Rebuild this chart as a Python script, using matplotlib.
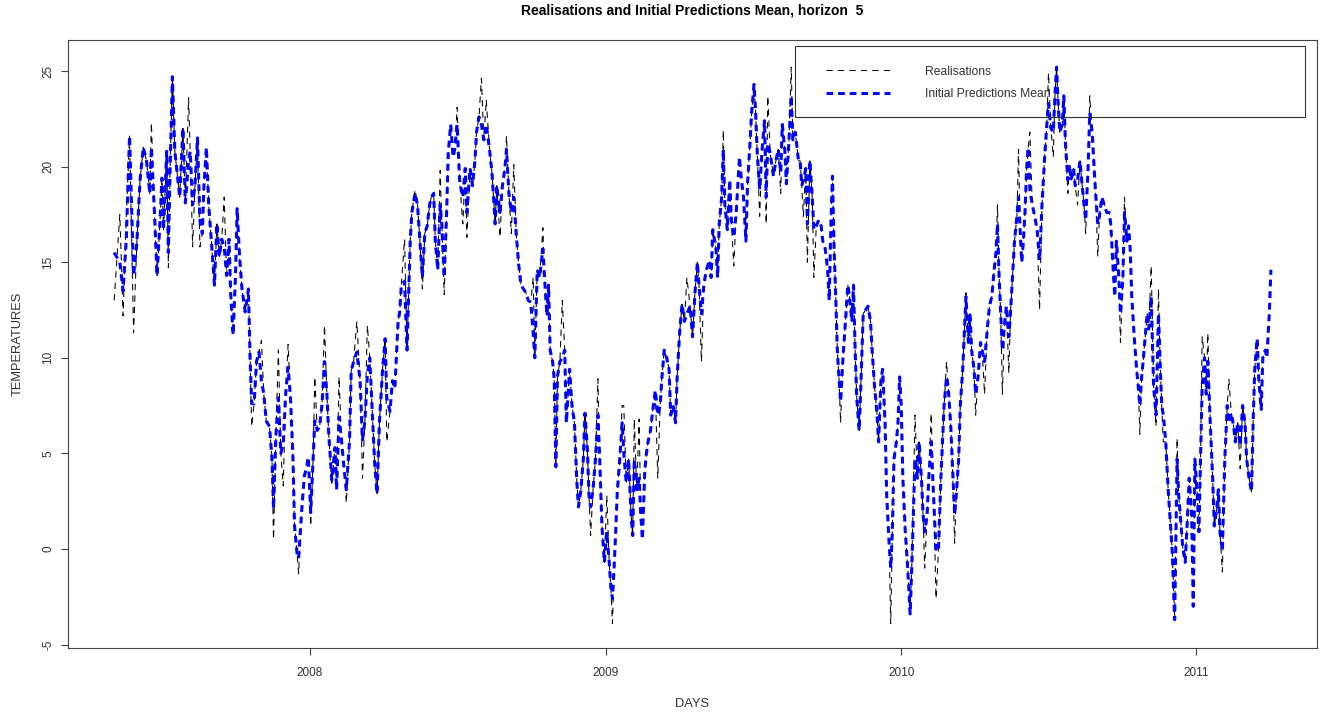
import pandas as pd
import matplotlib
matplotlib.use("Agg")
import matplotlib.pyplot as plt
from matplotlib.lines import Line2D
from matplotlib.patches import Rectangle

start = pd.Timestamp("2007-05-04")
days = [
    0, 7, 11, 15, 19, 24, 28, 32, 36, 40,
    44, 46, 50, 53, 57, 59, 61, 65, 67, 69,
    72, 75, 78, 81, 85, 88, 92, 94, 97, 100,
    103, 106, 109, 111, 114, 117, 120, 124, 127, 130,
    133, 136, 139, 142, 144, 147, 150, 152, 155, 158,
    162, 166, 168, 170, 173, 176, 179, 182, 185, 188,
    192, 195, 197, 200, 203, 206, 209, 212, 215, 218,
    221, 223, 226, 228, 232, 235, 238, 240, 243, 246,
    248, 251, 254, 257, 260, 263, 265, 269, 273, 275,
    278, 281, 284, 287, 291, 293, 296, 300, 304, 307,
    310, 313, 316, 319, 322, 325, 328, 332, 335, 337,
    341, 344, 347, 351, 353,
    355, 359, 362, 366, 368, 372, 375, 378, 381, 384,
    387, 390, 392, 395, 397, 400, 403, 405, 408, 411,
    413, 416, 419, 421, 424, 427, 431, 434, 436, 440,
    443, 446, 448, 451, 454, 457, 460, 464, 467, 469,
    471, 473, 477, 480, 483, 485, 488, 491, 494, 497,
    500, 503, 506, 509, 512, 515, 518, 520, 523, 526,
    530, 532, 535, 537, 539, 542, 544, 546, 548, 551,
    554, 557, 559, 563, 566, 569, 572, 574, 577, 580,
    582, 585, 587, 589, 592, 595, 598, 600, 603, 606,
    609, 612, 614, 616, 618, 620, 622, 625, 628, 630,
    633, 636, 639, 641, 643, 646, 649, 651, 653, 656,
    658, 660, 663, 666, 669, 672, 675, 677, 680, 683,
    686, 688, 691, 694, 696, 699, 702, 705, 708, 712,
    715, 718, 721, 723, 726, 729, 732, 736, 738, 740,
    744, 746, 748, 751, 753, 755, 758, 761, 763, 766,
    769, 773, 775, 778, 781, 783, 786, 788, 791, 793,
    795, 798, 801, 804, 806, 808, 811, 815, 818, 821,
    824, 826, 829, 831, 834, 837, 839, 842, 846, 848,
    850, 852, 855, 857, 860, 863, 865, 868, 871, 874,
    876, 879, 882, 884, 886, 888, 890, 892, 894, 896,
    898, 901, 904, 907, 909, 912, 914, 916, 918, 921,
    923, 926, 929, 932, 935, 937, 940, 943, 945, 948,
    950, 953, 955, 958, 960, 962, 964, 967, 969, 971,
    973, 975, 978, 981, 984, 986, 990, 993, 995, 998,
    1000, 1002, 1005, 1007, 1010, 1013, 1016, 1019, 1022, 1024,
    1026, 1029, 1031, 1034, 1036, 1039, 1041, 1044, 1046, 1049,
    1051, 1053, 1056, 1058, 1060, 1063, 1065, 1068, 1071, 1073,
    1076, 1079, 1082, 1085, 1087, 1090, 1092, 1094, 1096, 1098,
    1101, 1103, 1106, 1108, 1111, 1113, 1116, 1118, 1120, 1122,
    1124, 1126, 1128, 1130, 1132, 1135, 1138, 1141, 1144, 1147,
    1150, 1153, 1155, 1158, 1161, 1163, 1165, 1167, 1169, 1172,
    1174, 1176, 1179, 1181, 1183, 1186, 1188, 1191, 1194, 1196,
    1199, 1201, 1204, 1206, 1209, 1211, 1213, 1216, 1218, 1221,
    1224, 1227, 1230, 1232, 1235, 1237, 1239, 1242, 1244, 1247,
    1249, 1252, 1254, 1256, 1258, 1261, 1264, 1266, 1268, 1270,
    1272, 1274, 1277, 1279, 1282, 1285, 1288, 1291, 1293, 1295,
    1297, 1300, 1303, 1306, 1308, 1311, 1314, 1316, 1319, 1321,
    1324, 1326, 1329, 1332, 1334, 1336, 1339, 1341, 1343, 1345,
    1348, 1350, 1352, 1355, 1358, 1360, 1363, 1365, 1367, 1370,
    1373, 1376, 1378, 1381, 1384, 1386, 1389, 1392, 1395, 1398,
    1400, 1403, 1406, 1408, 1410, 1413, 1415, 1418, 1420, 1423,
    1425, 1428, 1430,
]

pred_mean = [
    15.5, 15.0, 13.5, 16.2, 21.6, 14.3, 16.0, 19.3, 21.0, 20.3,
    18.6, 21.0, 17.4, 14.3, 17.4, 19.4, 16.7, 20.8, 15.5, 19.6,
    24.7, 20.8, 19.6, 18.4, 22.0, 18.1, 20.3, 20.8, 18.0, 19.1,
    21.5, 17.2, 16.5, 19.0, 21.0, 17.9, 16.2, 13.8, 17.0, 15.3,
    16.2, 15.8, 14.3, 16.2, 13.4, 11.2, 14.3, 17.8, 15.3, 13.6,
    12.4, 13.6, 10.0, 7.6, 7.6, 9.8, 10.3, 8.8, 8.1, 6.7,
    6.4, 4.8, 2.1, 6.0, 7.9, 5.0, 5.5, 8.1, 9.5, 7.9,
    4.8, 1.2, -0.2, -0.5, 2.1, 3.8, 4.3, 4.8, 1.9, 4.8,
    6.7, 6.2, 6.4, 7.6, 9.8, 8.1, 6.2, 3.6, 5.3, 3.1,
    6.9, 5.7, 4.3, 3.1, 5.7, 9.3, 9.8, 10.3, 8.8, 5.7,
    6.7, 9.1, 10.0, 7.2, 4.5, 2.9, 6.7, 9.5, 11.0, 7.9,
    7.2, 8.8, 8.4, 11.9, 12.4,
    13.8, 14.0, 10.4, 16.1, 17.6, 18.6, 18.0, 16.1, 14.2, 16.5,
    16.9, 18.0, 18.4, 18.6, 16.1, 14.6, 18.0, 17.0, 14.2, 17.6,
    20.7, 22.2, 20.5, 20.9, 22.2, 19.3, 18.4, 19.9, 17.6, 19.9,
    19.0, 20.3, 21.8, 22.6, 22.2, 21.4, 22.2, 20.9, 19.7, 18.4,
    17.0, 19.0, 17.6, 19.0, 19.9, 20.9, 18.6, 17.6, 18.4, 16.5,
    14.9, 13.8, 13.6, 13.4, 13.0, 12.9, 11.3, 10.0, 14.6, 14.2,
    15.7, 14.2, 12.2, 13.8, 10.4, 9.8, 8.9, 4.3, 9.0, 9.8,
    10.0, 10.4, 6.6, 9.4, 7.5, 6.6, 3.5, 2.2, 3.1, 4.7,
    7.1, 5.2, 2.8, 2.2, 3.1, 4.7, 7.0, 5.0, 1.2, -0.7,
    0.9, -0.7, -2.0, -2.6, -1.0, 0.9, 3.0, 4.7, 6.6, 5.0,
    3.5, 4.7, 1.8, 0.7, 4.7, 3.1, 3.7, 1.8, 0.5, 4.1,
    5.0, 5.6, 6.2, 7.3, 8.3, 7.0, 7.5, 8.9, 10.4, 10.0,
    9.4, 7.0, 7.5, 6.6, 9.0, 11.3, 12.8, 11.9, 12.3, 12.7,
    11.1, 13.4, 15.0, 13.8, 12.3, 13.8, 14.6, 15.1, 14.2, 16.7,
    15.7, 14.2, 17.0, 18.4, 20.9, 18.0, 16.7, 19.3, 17.2, 16.3,
    17.6, 20.5, 19.5, 18.4, 16.1, 19.1, 21.2, 22.8, 24.3, 22.8,
    20.7, 18.8, 20.9, 22.4, 18.4, 21.2, 20.7, 19.5, 20.3, 20.9,
    19.7, 22.2, 20.9, 19.1, 21.2, 23.7, 21.4, 21.8, 20.3, 20.3,
    19.0, 19.3, 19.9, 17.0, 20.3, 18.4, 16.7, 16.9, 17.2, 16.9,
    16.1, 15.7, 14.6, 13.0, 17.0, 19.5, 15.7, 13.2, 10.4, 9.0,
    7.7, 10.0, 11.9, 13.8, 13.2, 11.9, 13.8, 10.4, 7.9, 6.2,
    8.5, 12.3, 12.5, 12.7, 11.9, 10.4, 8.5, 7.1, 5.6, 8.9,
    9.4, 6.6, 2.8, 0.3, -1.0, 0.9, 4.7, 5.6, 6.6, 9.0,
    7.5, 3.7, 0.9, -1.0, -3.4, -1.0, 4.7, 3.7, 5.6, 3.7,
    1.8, 0.9, 1.8, 3.7, 5.6, 2.8, -0.1, -0.1, 3.7, 5.6,
    7.5, 9.0, 8.5, 6.6, 4.7, 1.8, 2.8, 4.7, 7.5, 9.4,
    11.3, 13.2, 10.8, 12.3, 10.4, 9.4, 8.1, 9.0, 10.8, 10.4,
    9.8, 11.3, 12.7, 13.2, 14.2, 15.5, 17.0, 14.2, 12.3, 10.4,
    11.9, 12.7, 11.1, 12.3, 14.6, 16.1, 17.4, 18.4, 16.7, 15.0,
    16.1, 17.6, 19.9, 21.0, 18.8, 18.0, 17.4, 16.7, 15.1, 18.0,
    20.3, 22.2, 23.3, 22.0, 21.8, 23.7, 25.2, 23.3, 21.8, 22.2,
    23.7, 21.2, 19.3, 20.1, 19.3, 19.9, 19.0, 19.3, 20.3, 19.3,
    18.0, 17.2, 19.9, 22.8, 21.8, 20.3, 18.8, 17.0, 17.4, 18.4,
    18.0, 17.6, 17.6, 17.0, 14.6, 13.2, 16.1, 14.2, 12.3, 14.2,
    17.6, 16.1, 16.9, 15.7, 13.2, 11.1, 9.4, 8.5, 7.5, 8.9,
    9.8, 10.8, 12.3, 11.5, 13.2, 8.5, 7.0, 12.3, 9.8, 7.5,
    7.0, 5.6, 3.1, 1.2, -0.1, -3.7, 4.7, 2.8, 1.2, 0.1,
    -0.7, 0.9, 3.7, 1.8, -3.0, 4.7, 2.8, 0.9, 4.7, 8.5,
    10.0, 8.1, 9.8, 6.6, 3.7, 1.2, 2.1, 3.1, 0.9, -0.1,
    4.7, 7.5, 6.6, 7.1, 6.4, 5.6, 6.6, 5.4, 7.5, 6.6,
    4.7, 3.7, 3.0, 6.6, 9.4, 11.0, 8.9, 7.3, 10.0, 10.4,
    10.0, 12.3, 14.6,
]

realised = [
    13.0, 17.5, 12.2, 17.4, 21.6, 11.3, 16.0, 19.3, 21.0, 20.3,
    18.6, 22.3, 17.4, 14.3, 17.4, 19.4, 16.7, 20.8, 14.7, 19.6,
    24.7, 20.8, 19.6, 18.4, 22.0, 18.1, 23.6, 20.8, 15.8, 19.1,
    21.5, 15.8, 16.5, 19.0, 21.0, 17.9, 16.2, 13.8, 17.0, 15.3,
    16.2, 18.4, 14.3, 16.2, 13.4, 11.2, 14.3, 17.8, 15.3, 13.6,
    12.4, 13.6, 10.0, 6.4, 7.6, 9.8, 10.3, 10.9, 8.1, 6.7,
    6.4, 4.8, 0.5, 6.0, 10.4, 5.0, 3.3, 8.1, 10.7, 7.9,
    4.8, 1.2, -0.2, -1.3, 2.1, 3.8, 4.3, 4.8, 1.2, 4.8,
    9.0, 6.2, 6.4, 7.6, 11.7, 8.1, 6.2, 3.3, 5.3, 3.1,
    9.0, 5.7, 4.3, 2.4, 5.7, 9.3, 9.8, 11.9, 8.8, 3.7,
    6.7, 11.7, 10.0, 7.2, 4.5, 2.9, 6.7, 9.5, 11.0, 5.6,
    7.2, 8.8, 8.4, 11.9, 12.4,
    13.8, 16.2, 10.4, 16.1, 17.6, 18.8, 18.0, 16.1, 13.6, 16.5,
    16.9, 18.0, 18.4, 18.6, 16.1, 14.6, 19.8, 17.0, 13.3, 17.6,
    20.7, 22.2, 20.5, 20.9, 23.1, 19.3, 17.0, 19.9, 16.3, 19.9,
    19.0, 20.3, 21.8, 22.6, 24.6, 21.4, 23.5, 20.9, 19.7, 18.4,
    17.0, 19.0, 16.3, 19.0, 19.9, 21.6, 18.6, 16.5, 20.1, 16.5,
    14.9, 13.8, 13.6, 13.4, 13.0, 12.9, 14.2, 10.0, 14.6, 14.2,
    16.8, 14.2, 12.2, 13.8, 10.4, 9.8, 8.9, 4.3, 9.0, 9.8,
    13.0, 10.4, 6.6, 9.4, 7.5, 6.6, 3.5, 2.2, 3.1, 4.7,
    7.1, 5.2, 2.8, 0.7, 3.1, 4.7, 8.9, 5.0, 1.2, -0.7,
    2.8, -0.7, -2.0, -3.9, -1.0, 0.9, 3.0, 4.7, 7.5, 7.5,
    3.5, 4.7, 1.8, 0.7, 6.8, 3.1, 6.8, 1.8, 0.5, 4.1,
    5.0, 5.6, 6.2, 7.3, 8.3, 3.7, 7.5, 8.9, 10.4, 10.0,
    9.4, 7.0, 7.5, 6.6, 9.0, 11.3, 12.8, 11.9, 14.2, 12.7,
    11.1, 13.4, 15.0, 13.8, 9.8, 13.8, 14.6, 15.1, 14.2, 16.7,
    15.7, 14.2, 17.0, 18.4, 21.9, 18.0, 16.7, 19.3, 17.2, 14.8,
    17.6, 20.5, 19.5, 18.4, 16.1, 19.1, 21.2, 22.8, 24.3, 22.8,
    20.7, 17.4, 20.9, 22.4, 17.0, 23.7, 20.7, 19.5, 20.3, 20.9,
    18.6, 22.2, 20.9, 19.1, 21.2, 25.2, 21.4, 21.8, 20.3, 20.3,
    19.0, 17.4, 19.9, 15.0, 20.3, 18.4, 14.2, 16.9, 17.2, 16.9,
    16.1, 15.7, 14.6, 13.0, 17.0, 19.5, 15.7, 13.2, 10.4, 9.0,
    6.6, 10.0, 11.9, 13.8, 13.2, 11.9, 13.8, 10.4, 7.9, 6.2,
    8.5, 12.3, 12.5, 12.7, 11.9, 10.4, 8.5, 7.1, 5.6, 8.9,
    9.4, 6.6, 2.8, 0.3, -3.9, 0.9, 4.7, 5.6, 6.6, 9.0,
    7.5, 3.7, 0.9, -1.0, -3.2, -1.0, 7.0, 3.7, 5.6, 3.7,
    1.8, -1.0, 1.8, 3.7, 7.1, 2.8, -2.6, -0.1, 3.7, 5.6,
    7.5, 9.8, 8.5, 6.6, 4.7, 0.3, 2.8, 4.7, 7.5, 9.4,
    11.3, 13.4, 10.8, 12.3, 10.4, 9.4, 7.0, 9.0, 10.8, 10.4,
    8.1, 11.3, 12.7, 13.2, 14.2, 15.5, 18.0, 14.2, 12.3, 8.1,
    11.9, 12.7, 9.2, 12.3, 14.6, 16.1, 17.4, 20.9, 16.7, 15.0,
    16.1, 17.6, 19.9, 21.0, 21.8, 18.0, 17.4, 16.7, 12.5, 18.0,
    20.3, 22.2, 24.9, 22.0, 20.5, 23.7, 25.2, 23.3, 21.8, 22.2,
    23.7, 21.2, 18.6, 20.1, 19.3, 19.9, 19.0, 18.0, 20.3, 19.3,
    18.0, 16.5, 19.9, 23.7, 21.8, 20.3, 18.8, 15.3, 17.4, 18.4,
    18.0, 17.6, 17.6, 17.0, 14.6, 13.2, 16.1, 14.2, 10.8, 14.2,
    18.4, 16.1, 16.9, 15.7, 13.2, 11.1, 9.4, 8.5, 6.0, 8.9,
    9.8, 10.8, 12.3, 11.5, 14.8, 8.5, 6.4, 13.6, 9.8, 7.5,
    5.6, 5.6, 3.1, 1.2, -0.1, -3.7, 5.8, 2.8, 1.2, 0.1,
    -0.7, 0.9, 3.7, 1.8, -3.0, 4.7, 2.8, 0.9, 4.7, 11.1,
    10.0, 8.1, 11.3, 6.6, 3.7, 1.2, 2.1, 3.1, 0.9, -1.2,
    4.7, 7.5, 8.9, 7.1, 6.4, 5.6, 6.6, 4.2, 7.5, 6.6,
    4.7, 3.7, 3.0, 6.6, 9.4, 11.0, 8.9, 7.3, 10.0, 10.4,
    10.0, 12.3, 14.6,
]

years = [2008, 2009, 2010, 2011]
yticks = [-5, 0, 5, 10, 15, 20, 25]
labels = ["Realisations", "Initial Predictions Mean"]
title = "Realisations and Initial Predictions Mean, horizon  5"

dates = start + pd.to_timedelta(days, unit="D")

plt.rcParams["font.family"] = ["Liberation Sans", "DejaVu Sans"]
fig = plt.figure(figsize=(13.19, 7.17), dpi=100)
ax = fig.add_axes([0.0516, 0.0962, 0.9469, 0.848])

real_style = dict(color="black", lw=0.75, dashes=(6, 5))
pred_style = dict(color="blue", lw=2.2, dashes=(2.2, 1.6))
ax.plot(dates, realised, **real_style)
ax.plot(dates, pred_mean, **pred_style)

ax.set_xlim(start - pd.Timedelta(days=57), start + pd.Timedelta(days=1487))
ax.set_ylim(-5.18, 26.62)
ax.set_xticks([pd.Timestamp(f"{y}-01-01") for y in years])
ax.set_xticklabels([str(y) for y in years])
ax.set_yticks(yticks)
ax.set_yticklabels([str(v) for v in yticks], rotation=90, va="center")
ax.tick_params(axis="both", direction="out", length=5, width=0.8,
               color="#444444", labelcolor="#333333", labelsize=8.5)
ax.tick_params(axis="x", pad=9)
ax.tick_params(axis="y", pad=5)
for s in ax.spines.values():
    s.set_color("#444444")
    s.set_linewidth(0.8)

# legend box, R style (wide, unfilled)
ax.add_patch(Rectangle((0.582, 0.873), 0.408, 0.117, transform=ax.transAxes,
                       fill=False, edgecolor="#333333", lw=0.8, zorder=5))
handles = [Line2D([], [], **real_style), Line2D([], [], **pred_style)]
ax.legend(handles, labels, loc="upper left", bbox_to_anchor=(0.607, 0.958),
          frameon=False, fontsize=8.7, handlelength=5.3, handletextpad=2.9,
          labelspacing=0.85, borderpad=0, borderaxespad=0,
          labelcolor="#333333")

fig.text(0.525, 0.986, title, ha="center", va="center",
         fontsize=10, fontweight="bold")
fig.text(0.525, 0.018, "DAYS", ha="center", va="center",
         fontsize=9.3, color="#333333")
fig.text(0.0136, 0.520, "TEMPERATURES", ha="center", va="center",
         rotation=90, fontsize=9.3, color="#333333")

fig.savefig("out.png", dpi=100)
